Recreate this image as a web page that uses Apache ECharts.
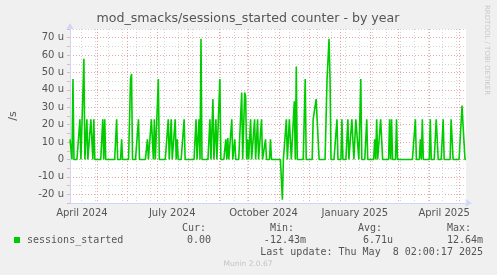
<!DOCTYPE html>
<html><head><meta charset="utf-8">
<script src="https://cdn.jsdelivr.net/npm/echarts@6/dist/echarts.min.js"></script>
<style>html,body{margin:0;padding:0;background:#f0f0f0}#c{width:497px;height:275px}</style>
</head><body><div id="c"></div>
<script>
// ---- data (one value per day, starting at startDate), unit: micro-sessions/s ----
const startDate = '2024-04-04';
const values = [
  11.6,11.6,0,46.3,0,0,0,0,0,0,23.1,0,0,0,57.9,0,0,23.1,0,0,
  0,23.1,23.1,0,23.1,0,0,0,0,0,0,0,0,23.1,0,23.1,0,0,0,0,
  0,0,0,0,0,0,0,23.1,0,0,0,0,11.6,0,0,0,0,0,0,0,
  0,46.3,49.2,0,0,0,0,0,0,23.1,0,0,0,0,0,0,0,0,11.6,0,
  0,0,23.1,23.1,0,23.1,0,0,0,46.3,0,0,0,0,0,0,0,0,0,23.1,
  0,0,23.1,0,0,0,23.1,0,11.6,0,0,0,0,0,0,23.1,0,0,0,0,
  0,0,0,0,0,0,0,23.1,0,0,23.1,0,69.4,0,0,0,0,0,0,0,
  0,23.1,0,0,34.7,0,0,23.1,0,0,0,46.3,0,0,0,0,0,11.6,0,12.4,
  0,0,0,23.1,0,0,11.6,0,0,0,0,0,0,38.5,0,0,38.5,36,0,11.6,
  0,0,23.1,0,0,0,23.1,0,0,23.1,0,0,0,23.1,0,0,0,11.6,0,0,
  0,0,11.6,0,0,0,0,0,0,0,0,0,0,0,-23.1,0,0,0,23.1,0,
  0,23.1,23.1,0,0,0,33.5,0,53.5,0,0,0,0,0,0,0,0,46.3,0,0,
  0,0,0,0,0,23.1,23.1,23.1,34.7,23.1,23.1,0,0,0,0,0,0,0,0,46.3,
  46.3,69.4,46.3,0,0,0,0,0,0,23.1,0,0,0,0,23.1,0,0,0,0,0,
  23.1,0,0,0,23.1,23.1,0,0,23.1,23.1,23.1,0,0,46.3,0,0,0,0,0,23.1,
  0,0,0,0,0,0,0,11.6,0,23.1,0,0,0,23.1,23.1,0,0,0,0,0,
  0,0,23.1,0,23.1,0,0,0,0,23.1,0,0,0,0,0,0,0,0,0,0,
  0,0,0,0,0,0,0,0,23.1,0,0,0,0,11.6,0,23.1,0,0,0,0,
  0,0,0,23.1,0,0,0,0,0,23.1,23.1,0,0,0,0,0,23.1,0,0,0,
  0,0,0,0,23.1,23.1,0,0,0,0,0,0,0,0,0,31,20,10,0,0
];
const xTickLabels = {
  '2024-04-16': 'April 2024',
  '2024-07-16': 'July 2024',
  '2024-10-16': 'October 2024',
  '2025-01-16': 'January 2025',
  '2025-04-16': 'April 2025'
};
const minorGridStart = '2024-04-15';
const minorGridStepDays = 14;
const yMin = -25, yMax = 75, yStep = 5;
const seriesName = 'sessions_started';
const legendHeaders = ['Cur:', 'Min:', 'Avg:', 'Max:'];
const legendValues = ['0.00', '-12.43m', '6.71u', '12.64m'];
const lastUpdate = 'Last update: Thu May  8 02:00:17 2025';
const titleText = 'mod_smacks/sessions_started counter - by year';

// ---- build categories ----
const DAY = 86400000;
const t0 = Date.parse(startDate + 'T00:00:00Z');
const dates = values.map((_, i) => new Date(t0 + i * DAY).toISOString().slice(0, 10));
const tMinor = Date.parse(minorGridStart + 'T00:00:00Z');

const chart = echarts.init(document.getElementById('c'), null, {renderer: 'canvas'});
const sans = 'DejaVu Sans', mono = 'DejaVu Sans Mono', txt = '#555';
const hdrX = [182, 270, 358, 447];
const valR = [211, 306, 393, 483];

const graphic = [
  {type:'text', x:248, y:19, style:{text:titleText, font:'12.6px "DejaVu Sans"', fill:'#555', textAlign:'center', textVerticalAlign:'middle'}},
  {type:'text', x:487, y:5, rotation:-Math.PI/2, style:{text:'RRDTOOL / TOBI OETIKER', font:'7px "DejaVu Sans"', fill:'#c8c8c8', textAlign:'left', textVerticalAlign:'middle'}},
  {type:'rect', shape:{x:14, y:237, width:6, height:6}, style:{fill:'#00cc00'}},
  {type:'text', x:27, y:240, style:{text:seriesName, font:'10px "DejaVu Sans Mono"', fill:txt, textAlign:'left', textVerticalAlign:'middle'}},
  {type:'text', x:483, y:252, style:{text:lastUpdate, font:'10px "DejaVu Sans Mono"', fill:txt, textAlign:'right', textVerticalAlign:'middle'}},
  {type:'text', x:248, y:264, style:{text:'Munin 2.0.67', font:'7.5px "DejaVu Sans"', fill:'#c4c4c4', textAlign:'center', textVerticalAlign:'middle'}}
];
legendHeaders.forEach((h, i) => graphic.push({type:'text', x:hdrX[i], y:228, style:{text:h, font:'10px "DejaVu Sans Mono"', fill:txt, textAlign:'left', textVerticalAlign:'middle'}}));
legendValues.forEach((v, i) => graphic.push({type:'text', x:valR[i], y:240, style:{text:v, font:'10px "DejaVu Sans Mono"', fill:txt, textAlign:'right', textVerticalAlign:'middle'}}));

chart.setOption({
  animation: false,
  backgroundColor: '#f0f0f0',
  grid: {left:66, top:29, width:400, height:174, show:true, backgroundColor:'#ffffff', borderWidth:0},
  xAxis: [
    {
      type:'category', data:dates, boundaryGap:false,
      axisLine:{onZero:false, lineStyle:{color:'#cfd6f8', width:1}, symbol:['none','arrow'], symbolSize:[6,7], symbolOffset:[0,6]},
      axisTick:{show:false},
      axisLabel:{
        interval:(idx, val) => xTickLabels[val] !== undefined,
        formatter:(val) => xTickLabels[val] || '',
        color:txt, fontSize:10, fontFamily:sans, margin:5
      },
      splitLine:{show:true, interval:(idx, val) => val.slice(8) === '01', lineStyle:{color:'#eda3a3', type:[1,2], width:1}}
    },
    {
      type:'category', data:dates, boundaryGap:false, position:'bottom',
      axisLine:{show:false, onZero:false}, axisTick:{show:false}, axisLabel:{show:false},
      splitLine:{show:true, interval:(idx, val) => {
        const d = Math.round((Date.parse(val + 'T00:00:00Z') - tMinor) / DAY);
        return d >= 0 && d % minorGridStepDays === 0;
      }, lineStyle:{color:'#d4d4d4', type:[1,2], width:1}}
    }
  ],
  yAxis: {
    type:'value', min:yMin, max:yMax, interval:yStep,
    name:'/s', nameLocation:'middle', nameGap:51, nameRotate:90,
    nameTextStyle:{color:txt, fontSize:11, fontFamily:sans},
    axisLine:{show:true, lineStyle:{color:'#cfd6f8', width:1}, symbol:['none','arrow'], symbolSize:[6,7], symbolOffset:[0,6]},
    axisTick:{show:true, length:3, lineStyle:{color:'#e6b6b6'}},
    axisLabel:{
      formatter:(v) => (v % 10 !== 0 ? '' : (v === 0 ? '0' : v + ' u')),
      color:txt, fontSize:10, fontFamily:sans, margin:6
    },
    splitLine:{show:true, lineStyle:{color:['#d4d4d4','#eda3a3'], type:[1,2], width:1}}
  },
  series: [{
    name: seriesName, type:'line', data:values, xAxisIndex:0,
    symbol:'none', showSymbol:false, silent:true,
    lineStyle:{color:'#00cc00', width:1.6}
  }],
  graphic: graphic
});
</script></body></html>
